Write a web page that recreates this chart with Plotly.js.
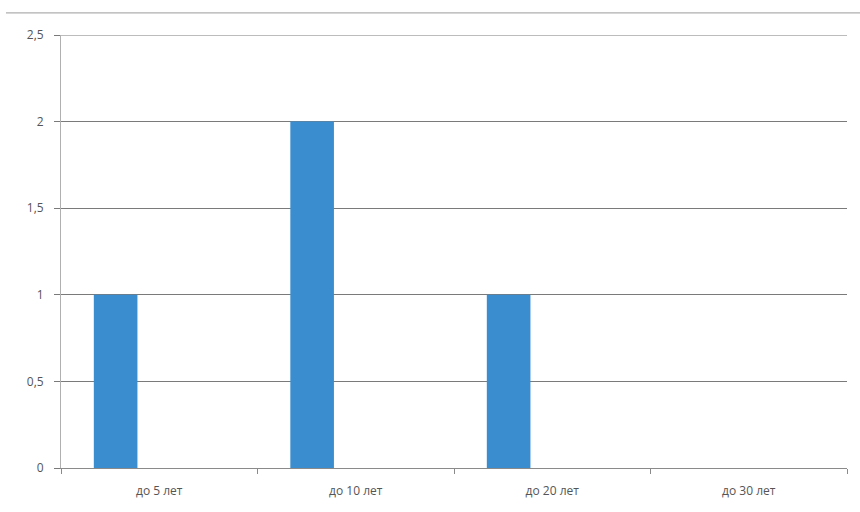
<!DOCTYPE html>
<html>
<head>
<meta charset="utf-8">
<script src="https://cdn.plot.ly/plotly-3.0.1.min.js"></script>
<style>html,body{margin:0;padding:0;background:#fff;}#chart{width:860px;height:512px;}</style>
</head>
<body>
<div id="chart"></div>
<script>
var categories = ["до 5 лет", "до 10 лет", "до 20 лет", "до 30 лет"];
var values = [1, 2, 1, 0];
var yTicks = [0, 0.5, 1, 1.5, 2, 2.5];
var yMax = yTicks[yTicks.length - 1];

var trace = {
  type: "bar",
  x: categories,
  y: values,
  width: 0.222,
  offset: -0.333,
  marker: {color: "#3a8ed0", line: {width: 0}},
  hoverinfo: "x+y"
};

var layout = {
  width: 860,
  height: 512,
  margin: {l: 61, r: 13, t: 35, b: 44},
  paper_bgcolor: "#ffffff",
  plot_bgcolor: "#ffffff",
  separators: ", ",
  showlegend: false,
  font: {family: "Open Sans, Liberation Sans, sans-serif", size: 11, color: "#555555"},
  xaxis: {
    type: "category",
    showgrid: false,
    showline: true,
    linecolor: "#8a8a8a",
    linewidth: 1,
    ticks: "outside",
    tickson: "boundaries",
    ticklen: 5,
    tickcolor: "#8a8a8a",
    ticklabelstandoff: 12,
    tickfont: {size: 12, color: "#555555"},
    zeroline: false,
    fixedrange: true
  },
  yaxis: {
    range: [0, yMax],
    tickvals: yTicks,
    showgrid: true,
    gridcolor: "#7a7a7a",
    gridwidth: 1,
    showline: true,
    linecolor: "#b0b0b0",
    linewidth: 1,
    ticks: "outside",
    ticklen: 6,
    tickcolor: "#7a7a7a",
    ticklabelstandoff: 8,
    tickfont: {size: 12, color: "#555555"},
    zeroline: false,
    fixedrange: true
  },
  shapes: [{
    type: "line", xref: "paper", yref: "paper",
    x0: -0.07, x1: 1.02, y0: 1.051, y1: 1.051,
    line: {color: "#9a9a9a", width: 1}
  }, {
    type: "line", xref: "paper", yref: "y",
    x0: 0, x1: 1, y0: yMax, y1: yMax,
    line: {color: "#7a7a7a", width: 1}
  }]
};

Plotly.newPlot("chart", [trace], layout, {displayModeBar: false, staticPlot: true});
</script>
</body>
</html>
